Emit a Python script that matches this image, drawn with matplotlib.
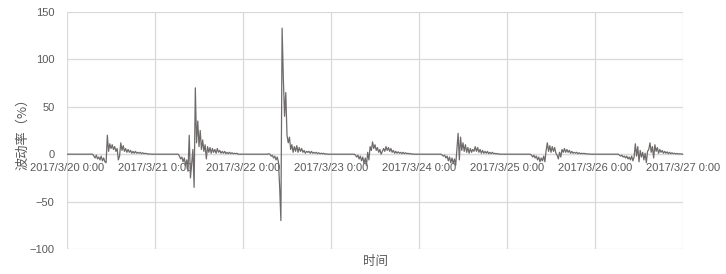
import pandas as pd
import matplotlib.pyplot as plt

plt.rcParams['font.family'] = ['Liberation Sans', 'Noto Sans CJK SC', 'DejaVu Sans']

# days shown, each active window sampled every 20 min from 6:00 to 23:00
days = ['2017-03-20', '2017-03-21', '2017-03-22', '2017-03-23',
        '2017-03-24', '2017-03-25', '2017-03-26']
end_day = '2017-03-27'

v20 = [0, 0, 0, 0, -2, -4, -1, -5, -3, -6, -2, -7, -4, -8, -9, 20, 3, 11, 6, 10,
       5, 8, 3, 6, -6, -2, 12, 4, 9, 3, 6, 2, 5, 2, 4, 1, 3, 1, 3, 1,
       2, 1, 2, 0.5, 1.5, 0.5, 1, 0.5, 0.5, 0, 0.3, 0]
v21 = [0, 0, -2, -5, -3, -8, -4, -12, -6, -18, 20, -25, -10, 5, -35, 70, 12, 35, 8, 25,
       5, 15, 3, 10, -5, 8, 2, 7, 1, 6, 2, 5, 1, 6, 2, 4, 1, 3, 1, 3,
       0.5, 2, 0.5, 2, 0.5, 1.5, 0.5, 1, 0.5, 1, 0, 0]
v22 = [0, 0, 0, 0.5, 0, -2, -1, -4, -2, -6, -3, -8, -35, -70, 133, 80, 40, 65, 20, 12,
       18, 5, 10, 2, 8, 3, 9, 2, 7, 3, 6, 2, 4, 1, 3, 2, 3, 1, 3, 1,
       2, 1, 2, 0.5, 1.5, 0.5, 1, 0.5, 1, 0, 0.5, 0]
v23 = [0, 0, -1, -3, -1, -5, -2, -7, -3, -10, -4, -12, 2, -6, 8, 4, 13, 6, 10, 4,
       7, 2, 5, 0, 3, 6, 3, 8, 4, 7, 3, 6, 2, 4, 1, 3, 1, 2.5, 1, 2,
       0.5, 2, 0.5, 1.5, 0.5, 1, 0.3, 0.8, 0, 0.3, 0, 0]
v24 = [0, -1, -2, -1, -4, -2, -7, -3, -9, -4, -10, -5, -12, 5, 22, -6, 18, 4, 12, 3,
       10, 2, 7, 1, 6, 2, 5, 3, 8, 3, 7, 2, 5, 1, 4, 1, 3, 1, 3, 0.5,
       2, 0.5, 2, 0.5, 1, 0.3, 0.8, 0, 0.3, 0, 0, 0]
v25 = [0, 0, -1, -3, -1, -4, -2, -6, -3, -8, -4, -7, -2, -8, 4, 12, 3, 9, 2, 8,
       3, 7, 1, -1, -5, 2, -3, 5, 2, 6, 2, 5, 2, 4, 1, 3, 1, 2, 1, 2,
       0.5, 1.5, 0.5, 1, 0.5, 1, 0.3, 0.6, 0.2, 0.3, 0, 0]
v26 = [0, 0, -1, -2, -1, -3, -2, -4, -2, -5, -3, -6, -2, -7, -3, 11, -2, 8, -8, 4,
       -3, 2, -6, 1, -9, 3, 5, 12, 2, 8, -4, 10, 3, 7, 1, 5, 2, 4, 1, 3,
       1, 2.5, 0.5, 2, 0.5, 1.5, 0.5, 1, 0.3, 0.8, 0.2, 0.5]

day_values = [v20, v21, v22, v23, v24, v25, v26]
tick_labels = ['2017/3/20 0:00', '2017/3/21 0:00', '2017/3/22 0:00', '2017/3/23 0:00',
               '2017/3/24 0:00', '2017/3/25 0:00', '2017/3/26 0:00', '2017/3/27 0:00']

# build one series: flat zero at midnight, sampled window per day
parts = [pd.Series([0.0], index=[pd.Timestamp(days[0])])]
for d, vals in zip(days, day_values):
    idx = pd.date_range(pd.Timestamp(d) + pd.Timedelta(hours=6), periods=len(vals), freq='20min')
    parts.append(pd.Series(vals, index=idx, dtype=float))
parts.append(pd.Series([0.0], index=[pd.Timestamp(end_day)]))
s = pd.concat(parts)

fig = plt.figure(figsize=(7.26, 2.74), dpi=100)
ax = fig.add_axes([67/726, 1-249/274, (683-67)/726, (249-12)/274])

grid_c = '#d9d9d9'
txt_c = '#595959'

ax.plot(s.index, s.values, color='#6f6b6b', lw=0.9, zorder=3)

ax.set_ylim(-100, 150)
ax.set_yticks([-100, -50, 0, 50, 100, 150])
ax.set_xlim(pd.Timestamp(days[0]), pd.Timestamp(end_day))
tick_pos = pd.date_range(days[0], end_day, freq='D')
ax.set_xticks(tick_pos)
ax.set_xticklabels(tick_labels)

ax.grid(True, color=grid_c, lw=0.9, zorder=0)
for sp in ['top', 'right', 'left']:
    ax.spines[sp].set_visible(False)
# date labels sit on the zero line
ax.spines['bottom'].set_position(('data', 0))
ax.spines['bottom'].set_color(grid_c)
ax.spines['bottom'].set_linewidth(0.9)

ax.tick_params(axis='both', length=0, colors=txt_c, labelsize=8)
ax.tick_params(axis='x', pad=6)
ax.tick_params(axis='y', pad=9)

ax.set_ylabel('波动率（%）', fontsize=9.5, color=txt_c,
              family=['Noto Sans CJK SC', 'DejaVu Sans'])
ax.yaxis.set_label_coords(-0.062, 0.5)
ax.set_xlabel('时间', fontsize=9, color=txt_c,
              family=['Noto Sans CJK SC', 'DejaVu Sans'])
ax.xaxis.set_label_coords(0.5, -0.025)

fig.savefig('out.png', dpi=100)
